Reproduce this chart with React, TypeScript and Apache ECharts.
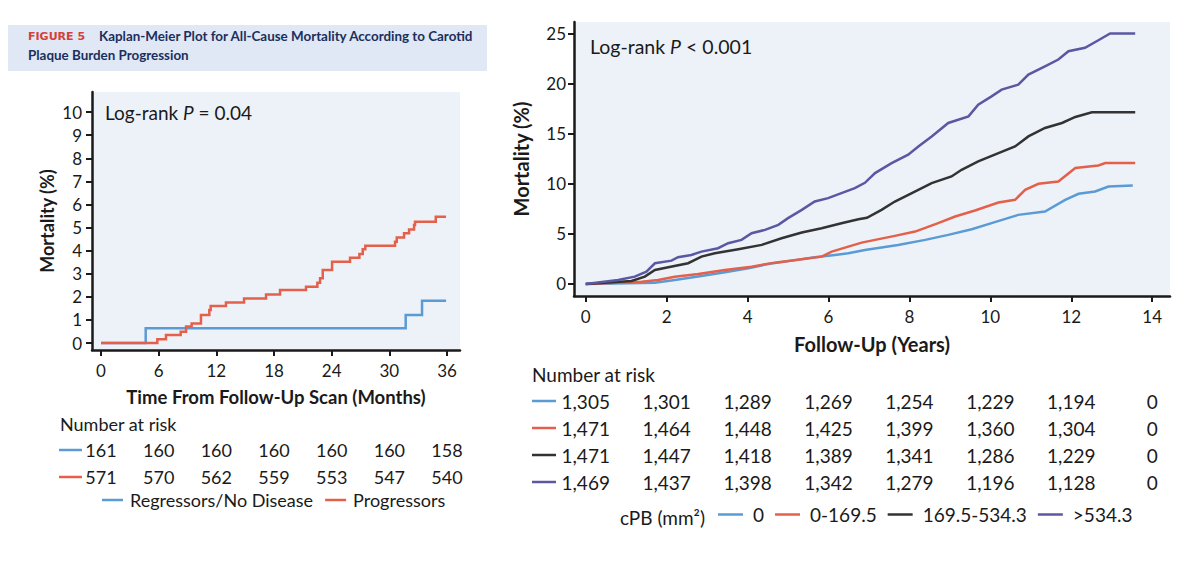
import React, { useEffect, useRef } from "react";
import * as echarts from "echarts";

// ---------- data ----------
const monthTicks = [0, 6, 12, 18, 24, 30, 36];
const leftYTicks = [0, 1, 2, 3, 4, 5, 6, 7, 8, 9, 10];
const yearTicks = [0, 2, 4, 6, 8, 10, 12, 14];
const rightYTicks = [0, 5, 10, 15, 20, 25];

// [months, mortality %]
const regressorsCurve: [number, number][] = [
  [0, 0], [4.65, 0.64], [31.7, 1.21], [33.4, 1.83], [35.9, 1.83],
];
const progressorsCurve: [number, number][] = [
  [0, 0], [5.86, 0.16], [6.76, 0.35], [8.29, 0.49], [8.85, 0.71], [9.43, 0.85],
  [10.4, 1.21], [11.27, 1.43], [11.41, 1.6], [13.0, 1.75], [14.88, 1.93],
  [17.17, 2.1], [18.63, 2.29], [21.33, 2.44], [22.51, 2.61], [22.79, 2.8],
  [23.07, 3.16], [24.04, 3.52], [25.91, 3.69], [26.88, 3.85], [27.23, 4.06],
  [27.5, 4.21], [30.59, 4.39], [30.77, 4.57], [31.53, 4.75], [32.05, 4.92],
  [32.57, 5.11], [32.67, 5.25], [34.83, 5.47], [35.9, 5.47],
];
const regressorsAtRisk = [161, 160, 160, 160, 160, 160, 158];
const progressorsAtRisk = [571, 570, 562, 559, 553, 547, 540];

// [years, mortality %]
const cpbZeroCurve: [number, number][] = [
  [0, 0], [1.71, 0.13], [2.2, 0.4], [2.86, 0.8], [3.44, 1.17], [4.02, 1.57],
  [4.51, 2.0], [5.09, 2.33], [5.66, 2.67], [6.16, 2.9], [6.49, 3.07], [6.9, 3.4],
  [7.72, 3.9], [8.39, 4.4], [8.96, 4.9], [9.54, 5.47], [10.03, 6.07], [10.69, 6.9],
  [11.35, 7.23], [11.85, 8.4], [12.18, 9.0], [12.59, 9.23], [12.92, 9.73], [13.52, 9.83],
];
const cpbLowCurve: [number, number][] = [
  [0, 0], [1.38, 0.23], [1.79, 0.4], [2.2, 0.73], [2.78, 1.0], [3.44, 1.4],
  [4.1, 1.73], [4.67, 2.13], [5.34, 2.47], [5.83, 2.73], [6.08, 3.23], [6.49, 3.73],
  [6.82, 4.13], [7.15, 4.4], [7.64, 4.8], [8.14, 5.23], [8.71, 6.07], [9.13, 6.73],
  [9.62, 7.33], [10.2, 8.13], [10.61, 8.4], [10.86, 9.4], [11.19, 10.0],
  [11.68, 10.23], [12.1, 11.57], [12.67, 11.83], [12.84, 12.07], [13.58, 12.07],
];
const cpbMidCurve: [number, number][] = [
  [0, 0], [1.13, 0.3], [1.46, 0.73], [1.71, 1.4], [2.04, 1.67], [2.53, 2.07],
  [2.86, 2.73], [3.19, 3.07], [3.77, 3.47], [4.35, 3.9], [4.84, 4.57], [5.34, 5.13],
  [5.83, 5.57], [6.32, 6.07], [6.74, 6.47], [6.95, 6.6], [7.31, 7.4], [7.64, 8.23],
  [8.06, 9.07], [8.55, 10.07], [9.04, 10.73], [9.29, 11.4], [9.7, 12.23],
  [10.2, 13.07], [10.61, 13.73], [10.94, 14.73], [11.35, 15.57], [11.77, 16.07],
  [12.1, 16.67], [12.51, 17.13], [13.58, 17.13],
];
const cpbHighCurve: [number, number][] = [
  [0, 0], [0.8, 0.4], [1.21, 0.73], [1.5, 1.23], [1.71, 2.07], [2.12, 2.33],
  [2.28, 2.67], [2.61, 2.9], [2.86, 3.23], [3.27, 3.57], [3.52, 4.07], [3.85, 4.4],
  [4.1, 5.07], [4.43, 5.4], [4.76, 5.9], [5.0, 6.57], [5.34, 7.4], [5.66, 8.23],
  [5.99, 8.57], [6.32, 9.07], [6.65, 9.57], [6.9, 10.1], [7.15, 11.07],
  [7.56, 12.07], [7.97, 12.9], [8.22, 13.73], [8.55, 14.73], [8.96, 16.07],
  [9.46, 16.73], [9.7, 17.9], [10.03, 18.73], [10.28, 19.4], [10.69, 19.9],
  [10.94, 20.9], [11.35, 21.73], [11.68, 22.4], [11.93, 23.23], [12.34, 23.57],
  [12.67, 24.33], [12.96, 25.0], [13.58, 25.0],
];
const cpbZeroAtRisk = [1305, 1301, 1289, 1269, 1254, 1229, 1194, 0];
const cpbLowAtRisk = [1471, 1464, 1448, 1425, 1399, 1360, 1304, 0];
const cpbMidAtRisk = [1471, 1447, 1418, 1389, 1341, 1286, 1229, 0];
const cpbHighAtRisk = [1469, 1437, 1398, 1342, 1279, 1196, 1128, 0];

// ---------- styling ----------
const FONT = "Lato, 'Open Sans', sans-serif";
const INK = "#1a1a1a";
const BLUE = "#5b9bd5";
const RED = "#e4604a";
const BLACK = "#333333";
const PURPLE = "#5b58a3";
const PLOT_BG = "#edf2f9";

const fmt = (n: number) => n.toLocaleString("en-US");

function kmLine(
  name: string,
  data: [number, number][],
  color: string,
  axis: number,
  step: boolean
) {
  return {
    type: "line",
    name,
    data,
    xAxisIndex: axis,
    yAxisIndex: axis,
    step: step ? "end" : false,
    symbol: "none",
    showSymbol: false,
    silent: true,
    lineStyle: { color, width: 2.5, join: "miter" },
    itemStyle: { color },
  };
}

function valueAxis(
  gridIndex: number,
  min: number,
  max: number,
  ticks: number[],
  name: string,
  nameSize: number,
  nameGap: number,
  labelMargin: number
) {
  return {
    type: "value",
    gridIndex,
    min,
    max,
    name,
    nameLocation: "middle",
    nameGap,
    nameTextStyle: { fontFamily: FONT, fontWeight: "bold", fontSize: nameSize, color: INK },
    axisLine: { onZero: false, lineStyle: { color: INK, width: 2.5 } },
    axisTick: { customValues: ticks, length: 6, lineStyle: { color: INK, width: 2 } },
    axisLabel: {
      customValues: ticks,
      margin: labelMargin,
      fontFamily: FONT,
      fontSize: 17,
      color: INK,
    },
    splitLine: { show: false },
  };
}

export default function App() {
  const ref = useRef<HTMLDivElement>(null);

  useEffect(() => {
    document.body.style.margin = "0";
    if (!ref.current) return;
    const chart = echarts.init(ref.current, undefined, { renderer: "svg" });

    chart.setOption({
      animation: false,
      grid: [
        { left: 92, top: 92, width: 368, height: 258, show: true, backgroundColor: PLOT_BG, borderWidth: 0 },
        { left: 574, top: 22, width: 596, height: 274, show: true, backgroundColor: PLOT_BG, borderWidth: 0 },
      ],
      xAxis: [
        valueAxis(0, -0.936, 37.35, monthTicks, "Time From Follow-Up Scan (Months)", 18.5, 37, 12),
        valueAxis(1, -0.29, 14.44, yearTicks, "Follow-Up (Years)", 20, 38, 12),
      ],
      yAxis: [
        valueAxis(0, -0.303, 10.87, leftYTicks, "Mortality (%)", 18, 36, 10),
        valueAxis(1, -1.2, 26.15, rightYTicks, "Mortality (%)", 20, 43, 8),
      ],
      legend: [
        {
          data: ["Regressors/No Disease", "Progressors"],
          left: 102,
          top: 491,
          padding: 0,
          itemWidth: 21,
          itemHeight: 2.5,
          itemGap: 12,
          icon: "rect",
          selectedMode: false,
          textStyle: { fontFamily: FONT, fontSize: 18, color: INK, padding: [0, 0, 0, 2] },
        },
        {
          data: ["0", "0-169.5", "169.5-534.3", ">534.3"],
          left: 718,
          top: 505,
          padding: 0,
          itemWidth: 25,
          itemHeight: 2.5,
          itemGap: 11,
          icon: "rect",
          selectedMode: false,
          textStyle: { fontFamily: FONT, fontSize: 19, color: INK, padding: [0, 0, 0, 5] },
        },
      ],
      series: [
        kmLine("Regressors/No Disease", regressorsCurve, BLUE, 0, true),
        kmLine("Progressors", progressorsCurve, RED, 0, true),
        kmLine("0", cpbZeroCurve, BLUE, 1, false),
        kmLine("0-169.5", cpbLowCurve, RED, 1, false),
        kmLine("169.5-534.3", cpbMidCurve, BLACK, 1, false),
        kmLine(">534.3", cpbHighCurve, PURPLE, 1, false),
      ],
    });

    // Number-at-risk tables, columns aligned with the x-axis ticks
    const leftX = (t: number) => chart.convertToPixel({ xAxisIndex: 0 }, t) as number;
    const rightX = (t: number) => chart.convertToPixel({ xAxisIndex: 1 }, t) as number;
    const txt = (x: number, y: number, text: string, size: number, align = "center", extra: any = {}) => ({
      type: "text",
      x,
      y,
      silent: true,
      style: {
        text,
        x: 0,
        y: 0,
        align,
        verticalAlign: "middle",
        fill: INK,
        font: `${size}px ${FONT}`,
        ...extra,
      },
    });
    const dash = (x1: number, x2: number, y: number, color: string) => ({
      type: "line",
      silent: true,
      shape: { x1, y1: y, x2, y2: y },
      style: { stroke: color, lineWidth: 2.5 },
    });

    const graphics: any[] = [];

    // Figure header
    graphics.push({
      type: "rect",
      silent: true,
      shape: { x: 8, y: 25, width: 479, height: 46 },
      style: { fill: "#dfe8f4" },
    });
    graphics.push(
      txt(28, 36, "FIGURE 5", 11, "left", { fill: "#d4403a", font: "bold 11px 'DejaVu Sans', sans-serif" })
    );
    graphics.push(
      txt(99, 36, "Kaplan-Meier Plot for All-Cause Mortality According to Carotid", 13.4, "left", {
        fill: "#1b2f5e",
        font: `bold 13.4px ${FONT}`,
      })
    );
    graphics.push(
      txt(28, 55, "Plaque Burden Progression", 13.4, "left", { fill: "#1b2f5e", font: `bold 13.4px ${FONT}` })
    );

    // Log-rank annotations
    const logRank = (x: number, y: number, rest: string, size: number) => ({
      type: "text",
      x,
      y,
      silent: true,
      style: {
        text: `{n|Log-rank }{i|P}{n|${rest}}`,
        verticalAlign: "middle",
        rich: {
          n: { fontFamily: FONT, fontSize: size, fill: INK },
          i: { fontFamily: FONT, fontSize: size, fontStyle: "italic", fill: INK },
        },
      },
    });
    graphics.push(logRank(105, 112, " = 0.04", 19));
    graphics.push(logRank(590, 46, " < 0.001", 19.5));

    // Left table
    graphics.push(txt(60, 424, "Number at risk", 18, "left"));
    const leftRows: [number[], string, number][] = [
      [regressorsAtRisk, BLUE, 450],
      [progressorsAtRisk, RED, 477],
    ];
    leftRows.forEach(([vals, color, y]) => {
      graphics.push(dash(59, 82, y, color));
      vals.forEach((v, i) => graphics.push(txt(leftX(monthTicks[i]), y, fmt(v), 18)));
    });

    // Right table
    graphics.push(txt(532, 374, "Number at risk", 19, "left"));
    const rightRows: [number[], string, number][] = [
      [cpbZeroAtRisk, BLUE, 401],
      [cpbLowAtRisk, RED, 428],
      [cpbMidAtRisk, BLACK, 455],
      [cpbHighAtRisk, PURPLE, 482],
    ];
    rightRows.forEach(([vals, color, y]) => {
      graphics.push(dash(532, 556, y, color));
      vals.forEach((v, i) => graphics.push(txt(rightX(yearTicks[i]), y, fmt(v), 19)));
    });
    graphics.push(txt(705, 517, "cPB (mm²)", 19, "right"));

    chart.setOption({ graphic: graphics });

    return () => chart.dispose();
  }, []);

  return <div ref={ref} style={{ width: 1200, height: 568 }} />;
}
